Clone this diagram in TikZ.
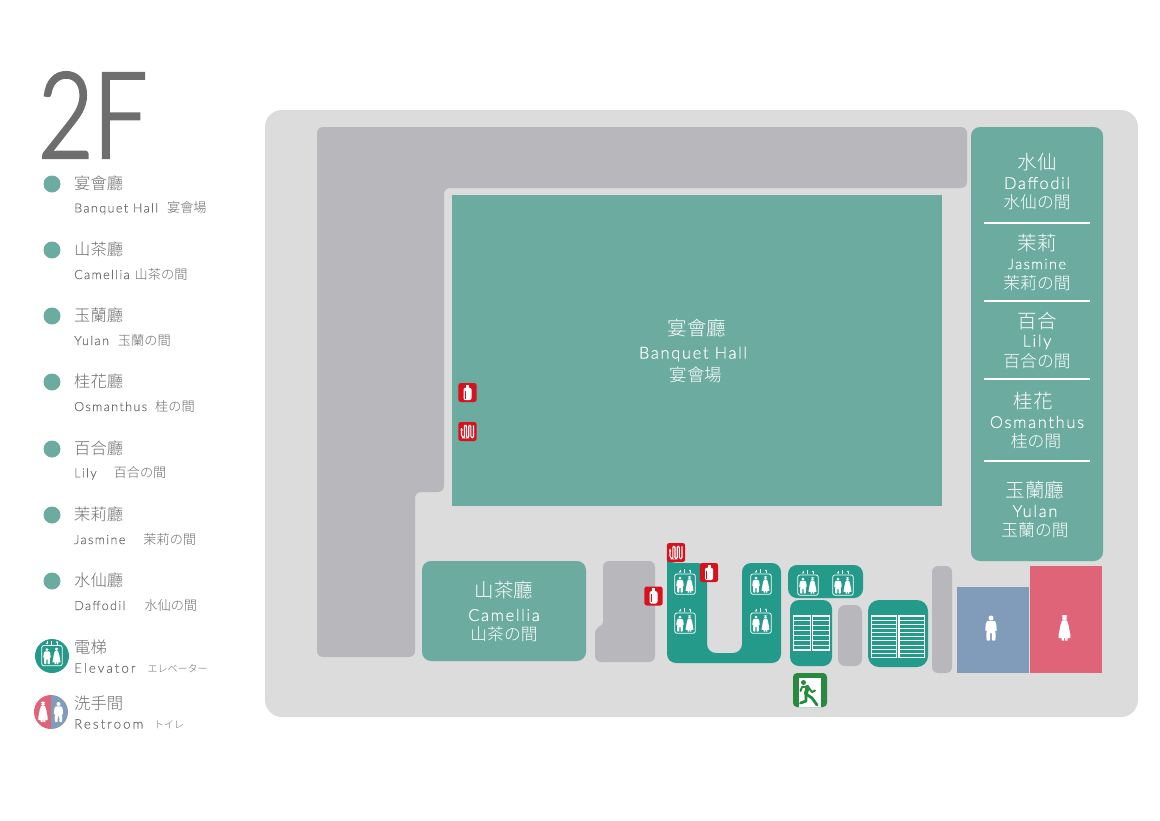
\documentclass[tikz,border=0pt]{standalone}
\usepackage{fontspec}
\setmainfont{Lato}
\newfontfamily\cjk{Noto Sans CJK TC Light}
\newfontfamily\latn[LetterSpace=10,FakeBold=.3]{Lato Light}
\newfontfamily\lathin[LetterSpace=11,FakeBold=.2]{Lato Light}
\newfontfamily\lawide[LetterSpace=16,FakeBold=.2]{Lato Light}
\newfontfamily\bigf[FakeStretch=.8,FakeBold=2.5]{Lato Light}
\usetikzlibrary{arrows.meta}

\definecolor{floorgray}{HTML}{DCDCDC}
\definecolor{wallgray}{HTML}{B8B7BB}
\definecolor{roomteal}{HTML}{6CAB9F}
\definecolor{liftteal}{HTML}{249A8A}
\definecolor{menblue}{HTML}{819CBA}
\definecolor{ladyred}{HTML}{DF6478}
\definecolor{firered}{HTML}{D7121F}
\definecolor{exitgreen}{HTML}{278A3E}
\definecolor{inkgray}{HTML}{6E6E6E}

\newcommand{\flight}[5]{%
  \draw[stairline] (#1,#2) rectangle (#3,#4);
  \foreach \r in {1,...,#5}
    \draw[stairline] (#1,{#2+\r*(#4-#2)/(#5+1)}) -- (#3,{#2+\r*(#4-#2)/(#5+1)});
}
\newcommand{\subjp}{\cjk\fontsize{13.2}{13}\selectfont}
\newcommand{\kanajp}{\cjk\fontsize{10}{10}\selectfont}

\tikzset{
  wall/.style={fill=wallgray,rounded corners=6pt},
  room/.style={fill=roomteal,rounded corners=9pt},
  lift/.style={fill=liftteal,rounded corners=9pt},
  stairline/.style={draw=white,line width=1.1pt},
  divider/.style={draw=white,line width=2.4pt},
  roomzh/.style={text=white,font=\cjk\fontsize{19.5}{20}\selectfont,inner sep=0pt},
  roomen/.style={text=white,font=\latn\fontsize{16.5}{17}\selectfont,inner sep=0pt},
  roomjp/.style={text=white,font=\cjk\fontsize{16.8}{17}\selectfont,inner sep=0pt},
  legzh/.style={text=inkgray,anchor=west,inner sep=0pt,font=\cjk\fontsize{16.3}{16}\selectfont},
  legsub/.style={text=inkgray,anchor=west,inner sep=0pt,font=\lathin\fontsize{12.6}{13}\selectfont},
  legdot/.style={circle,fill=roomteal,minimum size=17pt,inner sep=0pt},
  manfig/.pic={
    \fill[white] (0,-10) circle (2.5);
    \fill[white,rounded corners=.6pt] (-3.6,-7.2) -- (3.6,-7.2) -- (5.2,-4.5) -- (5.8,3) -- (4.2,3) -- (3.9,-1)
      -- (4,2) -- (4.8,7) -- (4.2,12.5) -- (1,12.5) -- (.9,5) -- (-.9,5) -- (-1,12.5) -- (-4.2,12.5)
      -- (-4.8,7) -- (-4,2) -- (-3.9,-1) -- (-4.2,3) -- (-5.8,3) -- (-5.2,-4.5) -- cycle;
  },
  ladyfig/.pic={
    \fill[white] (0,-9.8) circle (2.3);
    \fill[white] (0,-12) ellipse (2.8 and 1);
    \fill[white] (-2.4,-7.6) -- (2.4,-7.6) -- (4,-3) -- (5.9,7) -- (5.9,10) -- (3,10) -- (3,12.5)
      -- (.5,12.5) -- (.5,10) -- (-.5,10) -- (-.5,12.5) -- (-3,12.5) -- (-3,10) -- (-5.9,10)
      -- (-5.9,7) -- (-4,-3) -- cycle;
  },
  liftfig/.pic={
    \draw[white,line width=.8pt,rounded corners=2pt] (-10.2,-10) rectangle (10.2,10.2);
    \pic[scale=.64] at (-5,.5) {manfig};
    \pic[scale=.64] at (4.5,.5) {ladyfig};
    \draw[white,line width=.7pt] (-.3,-15) -- (-.3,-11);
    \draw[white,line width=.6pt,-{Latex[length=1.6pt,width=2.4pt]}] (-5,-14.5) -- (-5,-11);
    \draw[white,line width=.6pt,-{Latex[length=1.6pt,width=2.4pt]}] (5,-11) -- (5,-14.5);
  },
  firebox/.pic={
    \fill[firered,rounded corners=2.5pt] (-9.2,-9.5) rectangle (9.2,9.5);
  },
  extfig/.pic={
    \pic at (0,0) {firebox};
    \fill[white,rounded corners=2pt] (-4,-4.8) rectangle (4,7.6);
    \fill[white] (-1.5,-7.6) rectangle (1.5,-4);
    \draw[firered,line width=.9pt] (-2.2,-2) -- (-2.2,6);
  },
  hosefig/.pic={
    \pic at (0,0) {firebox};
    \draw[white,line width=1.1pt,rounded corners=1.2pt] (-7,-1.5) -- (-5,-1.5) (-6,-3.5) -- (-6,3.5) (-6,3.5) -- (-4.6,6.2) -- (-3.2,6.2) -- (-3.2,-6.2)
      -- (-1,-6.2) -- (-1,6.2) -- (1.2,6.2) -- (1.2,-6.2) -- (3.4,-6.2) -- (3.4,6.2) -- (6,6.2) -- (6,-6.2);
  }
}

\begin{document}
\begin{tikzpicture}[x=1pt,y=-1pt]
\useasboundingbox (0,0) rectangle (1160,820);

\fill[floorgray,rounded corners=17pt] (265,110) rectangle (1138,717);

% walls
\fill[wall] (317,127) -| (967,188) -| (444,492) -| (415,657) -- (317,657) -- cycle;
\fill[wall] (603,561) -| (655,662) -- (595,662) |- (603,627) -- cycle;
\fill[wall,rounded corners=7pt] (838,605) rectangle (862,666);
\fill[wall] (932,566) rectangle (952,673);

% rooms
\fill[fill=roomteal] (452,195) rectangle (942,506);
\fill[room] (971,127) rectangle (1103,561);
\fill[room] (422,561) rectangle (586,661);
\foreach \y in {223,301,379,461}
  \draw[divider] (984,\y) -- (1090,\y);

% lifts and stairs
\fill[lift] (667,563) -| (707,653) -| (742,563) -| (781,663) -| cycle;
\fill[lift] (788,565) rectangle (863,598);
\fill[lift] (790,600) rectangle (832,666);
\fill[lift,rounded corners=11pt] (868,600) rectangle (928,667);
\flight{793.5}{616}{810.5}{650}{6}
\flight{812.5}{616}{829.5}{650}{6}
\flight{871.7}{616}{896.5}{657.5}{9}
\flight{899}{616}{924.3}{657.5}{9}

\foreach \x/\y [count=\i] in {685/584,685/623,761/584,761/623,808/585,843/585}
  \pic (lift\i) at (\x,\y) {liftfig};

% restrooms
\fill[fill=menblue] (957,587) rectangle (1029,673);
\fill[fill=ladyred] (1030,566) rectangle (1102,673);
\pic (men) at (991,628) {manfig};
\pic (lady) at (1064.5,628) {ladyfig};

% fire equipment
\pic (ext1) at (467.5,392.5) {extfig};
\pic (ext2) at (653.5,596) {extfig};
\pic (ext3) at (709,572.5) {extfig};
\pic (hose1) at (467.5,431.5) {hosefig};
\pic (hose2) at (676,552.5) {hosefig};

% exit
\fill[exitgreen,rounded corners=4pt] (793,673) rectangle (827,707);
\fill[white] (799,678) rectangle (821,707);
\fill[exitgreen] (803.5,682.5) circle (2.5);
\draw[exitgreen,line width=4pt,line cap=round] (807.5,687) -- (806,693.5);
\draw[exitgreen,line width=2pt,line cap=round,line join=round] (807,686.5) -- (802,687) -- (800.5,691);
\draw[exitgreen,line width=2pt,line cap=round,line join=round] (808,687) -- (812,692) -- (815,690.5);
\draw[exitgreen,line width=2.8pt,line cap=round,line join=round] (806,694) -- (812,698) -- (817,705);
\draw[exitgreen,line width=2.8pt,line cap=round,line join=round] (806,694) -- (806,701) -- (800.5,703);

% room labels
\node[roomzh] (hallzh) at (697,328) {宴會廳};
\node[roomen] (hallen) at (693,354) {Banquet Hall};
\node[roomjp,font=\cjk\fontsize{17.5}{18}\selectfont] (halljp) at (696,375) {宴會場};
\node[roomzh] (camzh) at (504,590) {山茶廳};
\node[roomen] (camen) at (504,615) {Camellia};
\node[roomjp] (camjp) at (504,634) {山茶の間};
\node[roomzh] (dafzh) at (1037,162) {水仙};
\node[roomen] (dafen) at (1037,183) {Daffodil};
\node[roomjp] (dafjp) at (1037,202) {水仙の間};
\node[roomzh] (jaszh) at (1037,243) {茉莉};
\node[roomen,font=\latn\fontsize{14.5}{15}\selectfont] (jasen) at (1037,264) {Jasmine};
\node[roomjp] (jasjp) at (1037,283) {茉莉の間};
\node[roomzh] (lilzh) at (1037,321) {百合};
\node[roomen] (lilen) at (1037,342) {Lily};
\node[roomjp] (liljp) at (1037,361) {百合の間};
\node[roomzh] (osmzh) at (1033,401) {桂花};
\node[roomen] (osmen) at (1037,422) {Osmanthus};
\node[roomjp] (osmjp) at (1036,441) {桂の間};
\node[roomzh] (yulzh) at (1035,490) {玉蘭廳};
\node[roomen] (yulen) at (1035,511) {Yulan};
\node[roomjp] (yuljp) at (1035,530) {玉蘭の間};

% legend
\node[anchor=west,inner sep=0pt,text=inkgray,font=\bigf\fontsize{119}{119}\selectfont] (floor) at (38,115) {2F};
\foreach \y/\zh/\en/\gap/\jp [count=\i] in {
    184/宴會廳/Banquet Hall/9/宴會場,
    250/山茶廳/Camellia/5/山茶の間,
    316/玉蘭廳/Yulan/9/玉蘭の間,
    382/桂花廳/Osmanthus/8/桂の間,
    449/百合廳/Lily/17/百合の間,
    515/茉莉廳/Jasmine/18/茉莉の間,
    581/水仙廳/Daffodil/19/水仙の間} {
  \node[legdot] (dot\i) at (52,\y) {};
  \node[legzh] (zh\i) at (74,\y-1) {\zh};
  \node[legsub] (sub\i) at (74,\y+24) {\en\hspace*{\gap pt}{\subjp\jp}};
}

\fill[liftteal] (52,656) circle (17);
\pic (liftkey) at (52,655.5) {liftfig};
\node[legzh] (liftzh) at (74,647) {電梯};
\node[legsub,font=\lawide\fontsize{13.2}{13}\selectfont] (liften) at (74,668) {Elevator\hspace*{12pt}{\kanajp エレベーター}};

\fill[ladyred] (51,729) arc (90:270:17) -- cycle;
\fill[menblue] (51,729) arc (90:-90:17) -- cycle;
\pic[scale=.8] (ladykey) at (43,712) {ladyfig};
\pic[scale=.8] (menkey) at (58.5,712) {manfig};
\node[legzh] (restzh) at (74,703) {洗手間};
\node[legsub,font=\lawide\fontsize{13.2}{13}\selectfont] (resten) at (74,724) {Restroom\hspace*{11pt}{\kanajp トイレ}};
\end{tikzpicture}
\end{document}
